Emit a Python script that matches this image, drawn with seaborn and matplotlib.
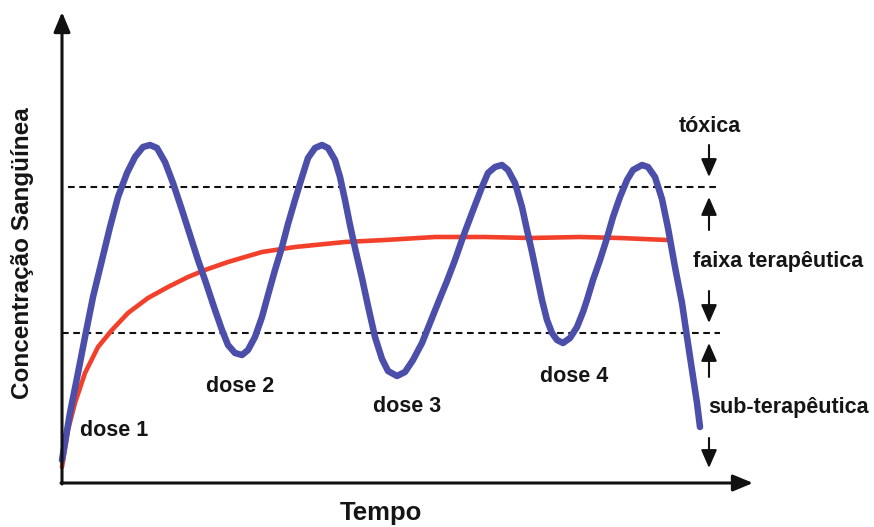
import numpy as np
import pandas as pd
import matplotlib
matplotlib.use("Agg")
import matplotlib.pyplot as plt
import seaborn as sns

# ---- data (time, concentration) ----
blue_t = [0, 8, 16, 23, 31, 40, 48, 56, 65, 73, 81, 88, 95, 103, 111, 120, 128, 136, 143,
          153, 160, 166, 173, 180, 186, 193, 200, 206, 213, 220, 226, 233, 240, 246, 253,
          260, 266, 273, 278, 283, 288, 293, 300, 306, 313, 320, 326, 335, 343, 351, 360,
          368, 376, 385, 393, 401, 410, 420, 426, 433, 440, 446, 453, 460, 465, 470, 475,
          480, 485, 490, 495, 501, 508, 515, 521, 525, 531, 538, 545, 551, 558, 565, 571,
          580, 586, 593, 600, 606, 613, 620, 625, 630, 635, 638]
blue_c = [23, 70, 110, 146, 186, 223, 256, 286, 310, 326, 336, 338, 335, 321, 300, 273,
          248, 223, 203, 173, 153, 138, 130, 128, 133, 146, 166, 188, 213, 236, 259, 283,
          306, 325, 335, 338, 335, 323, 306, 283, 258, 235, 205, 177, 146, 124, 112, 107,
          111, 123, 140, 160, 180, 202, 223, 246, 270, 296, 310, 316, 318, 313, 300, 276,
          253, 231, 207, 183, 163, 150, 143, 140, 145, 156, 171, 183, 203, 223, 245, 266,
          286, 303, 313, 318, 316, 306, 284, 255, 216, 180, 146, 113, 80, 56]

red_t = [0, 6, 13, 23, 36, 50, 66, 86, 106, 126, 143, 166, 200, 233, 283, 323, 373, 423,
         468, 518, 558, 605]
red_c = [16, 53, 80, 110, 136, 153, 170, 185, 196, 206, 213, 221, 231, 236, 241, 243, 246,
         246, 245, 246, 245, 243]

toxic_level = 296
sub_level = 150
dose_labels = ["dose 1", "dose 2", "dose 3", "dose 4"]
dose_t = [52, 178, 345, 512]
dose_c = [53, 96, 76, 106]
zone_labels = ["tóxica", "faixa terapêutica", "sub-terapêutica"]
x_label = "Tempo"
y_label = "Concentração Sangüínea"

# ---- figure ----
sns.set_style("white")
plt.rcParams['font.family'] = ['Liberation Sans', 'DejaVu Sans']
fig = plt.figure(figsize=(8.74, 5.27), dpi=100)
ax = fig.add_axes([0, 0, 1, 1])
ax.set_xlim(-62, 812)
ax.set_ylim(-44, 483)
ax.axis("off")

blue_df = pd.DataFrame({"t": blue_t, "c": blue_c})
red_df = pd.DataFrame({"t": red_t, "c": red_c})

# dashed threshold lines
ax.plot([6, 656], [toxic_level, toxic_level], ls=(0, (3.2, 2.2)), color="#111111", lw=1.5, zorder=1)
ax.plot([0, 658], [sub_level, sub_level], ls=(0, (3.2, 2.2)), color="#111111", lw=1.5, zorder=1)

sns.lineplot(data=red_df, x="t", y="c", ax=ax, color="#f2402a", lw=3.3, sort=False,
             estimator=None, zorder=3, solid_capstyle="round", solid_joinstyle="round")
sns.lineplot(data=blue_df, x="t", y="c", ax=ax, color="#4b4faa", lw=4.7, sort=False,
             estimator=None, zorder=4, solid_capstyle="round", solid_joinstyle="round")

# axes with arrows
axis_kw = dict(arrowstyle="-|>,head_length=0.6,head_width=0.25", lw=2.2, color="#111111",
               shrinkA=0, shrinkB=0, mutation_scale=20)
ax.annotate("", xy=(0, 471), xytext=(0, -1), arrowprops=axis_kw, zorder=5)
ax.annotate("", xy=(691, 0), xytext=(-1, 0), arrowprops=axis_kw, zorder=5)

# small zone arrows
small_kw = dict(arrowstyle="-|>,head_length=0.55,head_width=0.24", lw=1.5, color="#111111",
                shrinkA=0, shrinkB=0, mutation_scale=20)
ax_x = 647
for tail, tip in [(338, 306), (253, 286), (192, 160), (106, 140), (45, 15)]:
    ax.annotate("", xy=(ax_x, tip), xytext=(ax_x, tail), arrowprops=small_kw)

txt_kw = dict(fontweight="bold", color="#151515", ha="center", va="center")
ax.text(648, 356, zone_labels[0], fontsize=15.5, **txt_kw)
ax.text(716, 221, zone_labels[1], fontsize=15.5, **txt_kw)
ax.text(727, 75, zone_labels[2], fontsize=15.5, **txt_kw)

for lab, t, c in zip(dose_labels, dose_t, dose_c):
    ax.text(t, c, lab, fontsize=15.5, **txt_kw)

ax.text(319, -30, x_label, fontsize=18.5, **txt_kw)
ax.text(-39, 230, y_label, fontsize=17.5, rotation=90, **txt_kw)

fig.savefig("out.png", dpi=100)
